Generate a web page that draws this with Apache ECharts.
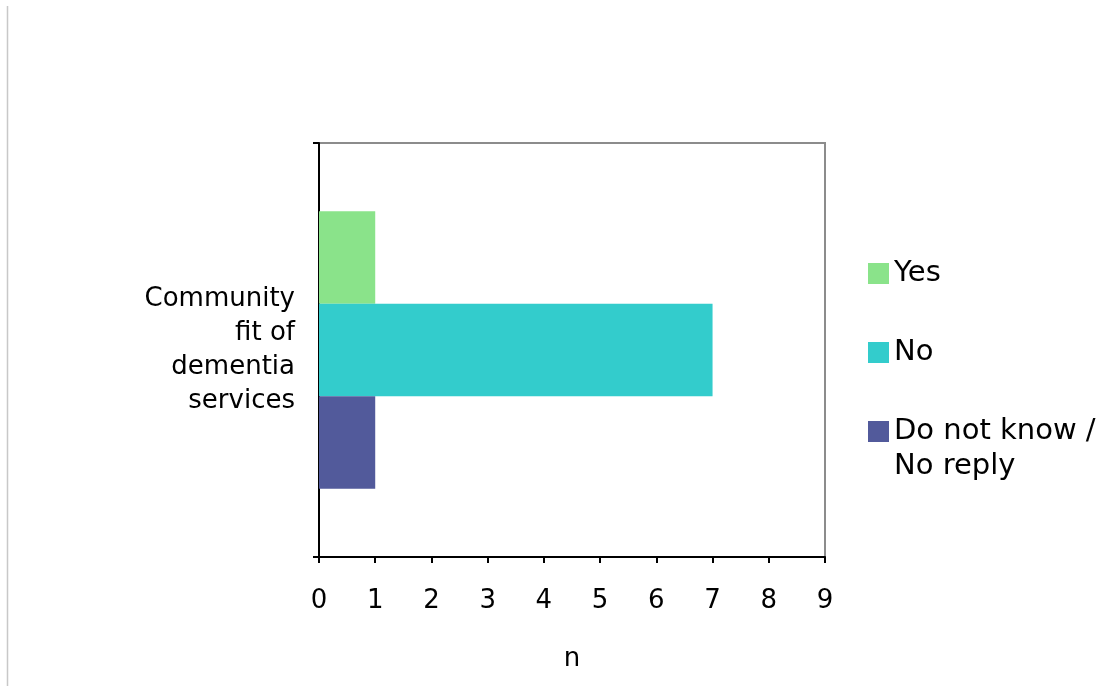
<!DOCTYPE html>
<html>
<head>
<meta charset="utf-8">
<script src="https://cdn.jsdelivr.net/npm/echarts@6/dist/echarts.min.js"></script>
<style>
  html, body { margin: 0; padding: 0; background: #ffffff; }
  #chart { width: 1112px; height: 686px; }
</style>
</head>
<body>
<div id="chart"></div>
<script>
// Survey answers on how well dementia services fit the community
const categories = ['Community\nfit of\ndementia\nservices'];
const seriesNames = ['Yes', 'No', 'Do not know /\nNo reply'];
const seriesValues = [[1], [7], [1]];
const seriesColors = ['#8ae38a', '#33cccc', '#525a9b'];
const xTicks = { min: 0, max: 9, interval: 1 };

const FONT = 'DejaVu Sans';
const AXIS_FS = 26;
const LEGEND_FS = 29;
const TEXT_COLOR = '#000';

// legend entries show only the first line; the wrapped remainder of the
// last entry is drawn beneath it so the swatch stays level with line one
const legendTop = 256;
const legendLeft = 868;
const legendStep = 79;
const lastName = seriesNames[seriesNames.length - 1].split('\n');

const chart = echarts.init(document.getElementById('chart'), null, { renderer: 'canvas' });

chart.setOption({
  backgroundColor: '#ffffff',
  animation: false,
  textStyle: { fontFamily: FONT },
  grid: {
    left: 319, right: 287, top: 143, bottom: 129,
    show: true, borderColor: '#8c8c8c', borderWidth: 2, backgroundColor: 'transparent'
  },
  legend: {
    orient: 'vertical',
    left: legendLeft, top: legendTop,
    padding: 0,
    itemWidth: 21, itemHeight: 21, itemGap: legendStep - 35,
    icon: 'rect',
    formatter: (name) => name.split('\n')[0],
    textStyle: { fontFamily: FONT, fontSize: LEGEND_FS, color: TEXT_COLOR, lineHeight: 35 },
    data: seriesNames
  },
  xAxis: {
    type: 'value',
    min: xTicks.min, max: xTicks.max, interval: xTicks.interval,
    name: 'n', nameLocation: 'middle', nameGap: 89,
    nameTextStyle: { fontFamily: FONT, fontSize: AXIS_FS, color: TEXT_COLOR },
    axisLine: { show: true, lineStyle: { color: '#000', width: 2 } },
    axisTick: { show: true, length: 6, lineStyle: { color: '#000', width: 2 } },
    axisLabel: { fontFamily: FONT, fontSize: AXIS_FS, color: TEXT_COLOR, margin: 31 },
    splitLine: { show: false }
  },
  yAxis: {
    type: 'category',
    data: categories,
    axisLine: { show: true, lineStyle: { color: '#000', width: 2 } },
    axisTick: { show: true, length: 6, lineStyle: { color: '#000', width: 2 } },
    axisLabel: { fontFamily: FONT, fontSize: AXIS_FS, color: TEXT_COLOR, margin: 24, lineHeight: 34, align: 'right' }
  },
  series: seriesNames.map((name, i) => ({
    name: name,
    type: 'bar',
    data: seriesValues[i],
    itemStyle: { color: seriesColors[i] },
    barGap: '0%',
    barCategoryGap: '33%'
  })),
  graphic: [
    {
      type: 'line',
      shape: { x1: 7.5, y1: 6, x2: 7.5, y2: 686 },
      style: { stroke: '#c8c8c8', lineWidth: 1.5 },
      silent: true
    },
    {
      type: 'text',
      left: legendLeft + 21 + 5,
      top: legendTop + 7 + 2 * legendStep + 35 - 7,
      style: {
        text: lastName.slice(1).join('\n'),
        font: LEGEND_FS + 'px "' + FONT + '"',
        fill: TEXT_COLOR,
        lineHeight: 35
      },
      silent: true
    }
  ]
});
</script>
</body>
</html>
